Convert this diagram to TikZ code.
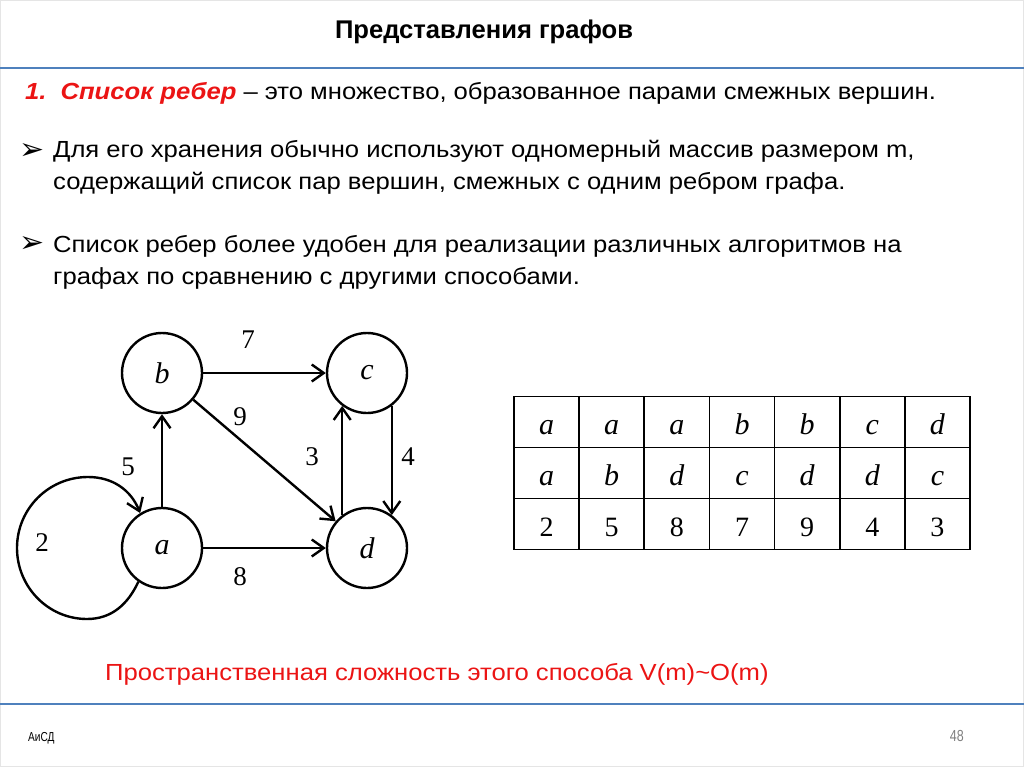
\documentclass[tikz,border=0pt]{standalone}
\usepackage{fontspec}
\setmainfont{Liberation Sans}[FakeStretch=1.1]
\newfontfamily\plainsans{Liberation Sans}
\newfontfamily\smallsans{Liberation Sans}[FakeStretch=0.78]
\newfontfamily\serfont{Liberation Serif}
\newfontfamily\symfont{DejaVu Sans}
\usetikzlibrary{arrows.meta,positioning}
\definecolor{slideblue}{RGB}{79,129,189}
\definecolor{slidered}{RGB}{235,20,20}

\begin{document}
\begin{tikzpicture}[x=1pt,y=1pt,
  body/.style={anchor=base west,inner sep=0pt,font=\fontsize{23.3}{26}\selectfont},
  mark2/.style={inner sep=0pt,font=\symfont\fontsize{30}{31}\selectfont},
  vert/.style={draw,circle,line width=2.4pt,minimum size=80pt,inner sep=0pt,font=\serfont\itshape\fontsize{30}{31}\selectfont},
  wt/.style={inner sep=0pt,font=\serfont\fontsize{27}{28}\selectfont},
  arr/.style={line width=2.4pt,-{Straight Barb[length=12pt,width=17pt,line width=2.4pt]}},
  cell/.style={draw,line width=1.8pt,minimum width=65.1pt,minimum height=51pt,inner sep=0pt,
    text height=25pt,text depth=0pt,font=\serfont\fontsize{28}{29}\selectfont},
  vcell/.style={cell,font=\serfont\itshape\fontsize{30}{31}\selectfont}]
\useasboundingbox (0,0) rectangle (1024,-767);
\draw[gray!20] (0.5,-0.5) rectangle (1023.5,-766.5);
% header
\node[font=\plainsans\bfseries\fontsize{25.6}{28}\selectfont] (title) at (484,-32) {Представления графов};
\draw[slideblue,line width=2pt] (0,-68) -- (1024,-68);
\node[body] (l1) at (25,-100) {\textcolor{slidered}{\bfseries\itshape 1.\hspace{14pt}Список ребер} – это множество, образованное парами смежных вершин.};
\node[mark2] (m1) at (32,-152) {➢};
\node[body] (t1) at (53,-158) {Для его хранения обычно используют одномерный массив размером m,};
\node[body] (t2) at (53,-190) {содержащий список пар вершин, смежных с одним ребром графа.};
\node[mark2] (m2) at (32,-245) {➢};
\node[body] (t3) at (53,-252) {Список ребер более удобен для реализации различных алгоритмов на};
\node[body] (t4) at (53,-284) {графах по сравнению с другими способами.};
% graph
\node[vert] (b) at (162,-373) {b};
\node[vert] (c) at (367,-373) {c};
\node[vert] (a) at (162,-548) {a};
\node[vert] (d) at (367,-548) {d};
\draw[arr] (a) -- (b);
\draw[arr] (b) -- (c);
\draw[arr] (b) -- (d);
\draw[arr] (a) -- (d);
\draw[arr] (d.127) -- (c.233);
\draw[arr] (c.-53) -- (d.53);
\draw[arr] (a.-125) to[out=-115,in=0] (87,-619) to[out=180,in=-90] (17,-548)
  to[out=90,in=180] (88,-477) to[out=0,in=112] (a.122);
\node[wt] (w7) at (248,-340) {7};
\node[wt] (w9) at (240,-417) {9};
\node[wt] (w5) at (128,-467) {5};
\node[wt] (w3) at (312,-457) {3};
\node[wt] (w4) at (408,-457) {4};
\node[wt] (w8) at (240,-577) {8};
\node[wt] (w2) at (42,-543) {2};
% edge list
\foreach \col/\u/\v/\w in {1/a/a/2,2/a/b/5,3/a/d/8,4/b/c/7,5/b/d/9,6/c/d/4,7/d/c/3}{
  \node[vcell] (u\col) at ({514+65.14*(\col-0.5)},-422) {\u};
  \node[vcell] (v\col) at ({514+65.14*(\col-0.5)},-473) {\v};
  \node[cell] (n\col) at ({514+65.14*(\col-0.5)},-524) {\w};
}
% footer
\node[body,text=slidered] (cost) at (105,-680) {Пространственная сложность этого способа V(m)\textasciitilde O(m)};
\draw[slideblue,line width=2pt] (0,-704) -- (1024,-704);
\node[anchor=base west,inner sep=0pt,font=\smallsans\fontsize{13}{15}\selectfont] (crs) at (28,-741) {АиСД};
\node[anchor=base east,inner sep=0pt,text=gray,font=\smallsans\fontsize{16}{18}\selectfont] (pg) at (964,-741) {48};
\end{tikzpicture}
\end{document}
